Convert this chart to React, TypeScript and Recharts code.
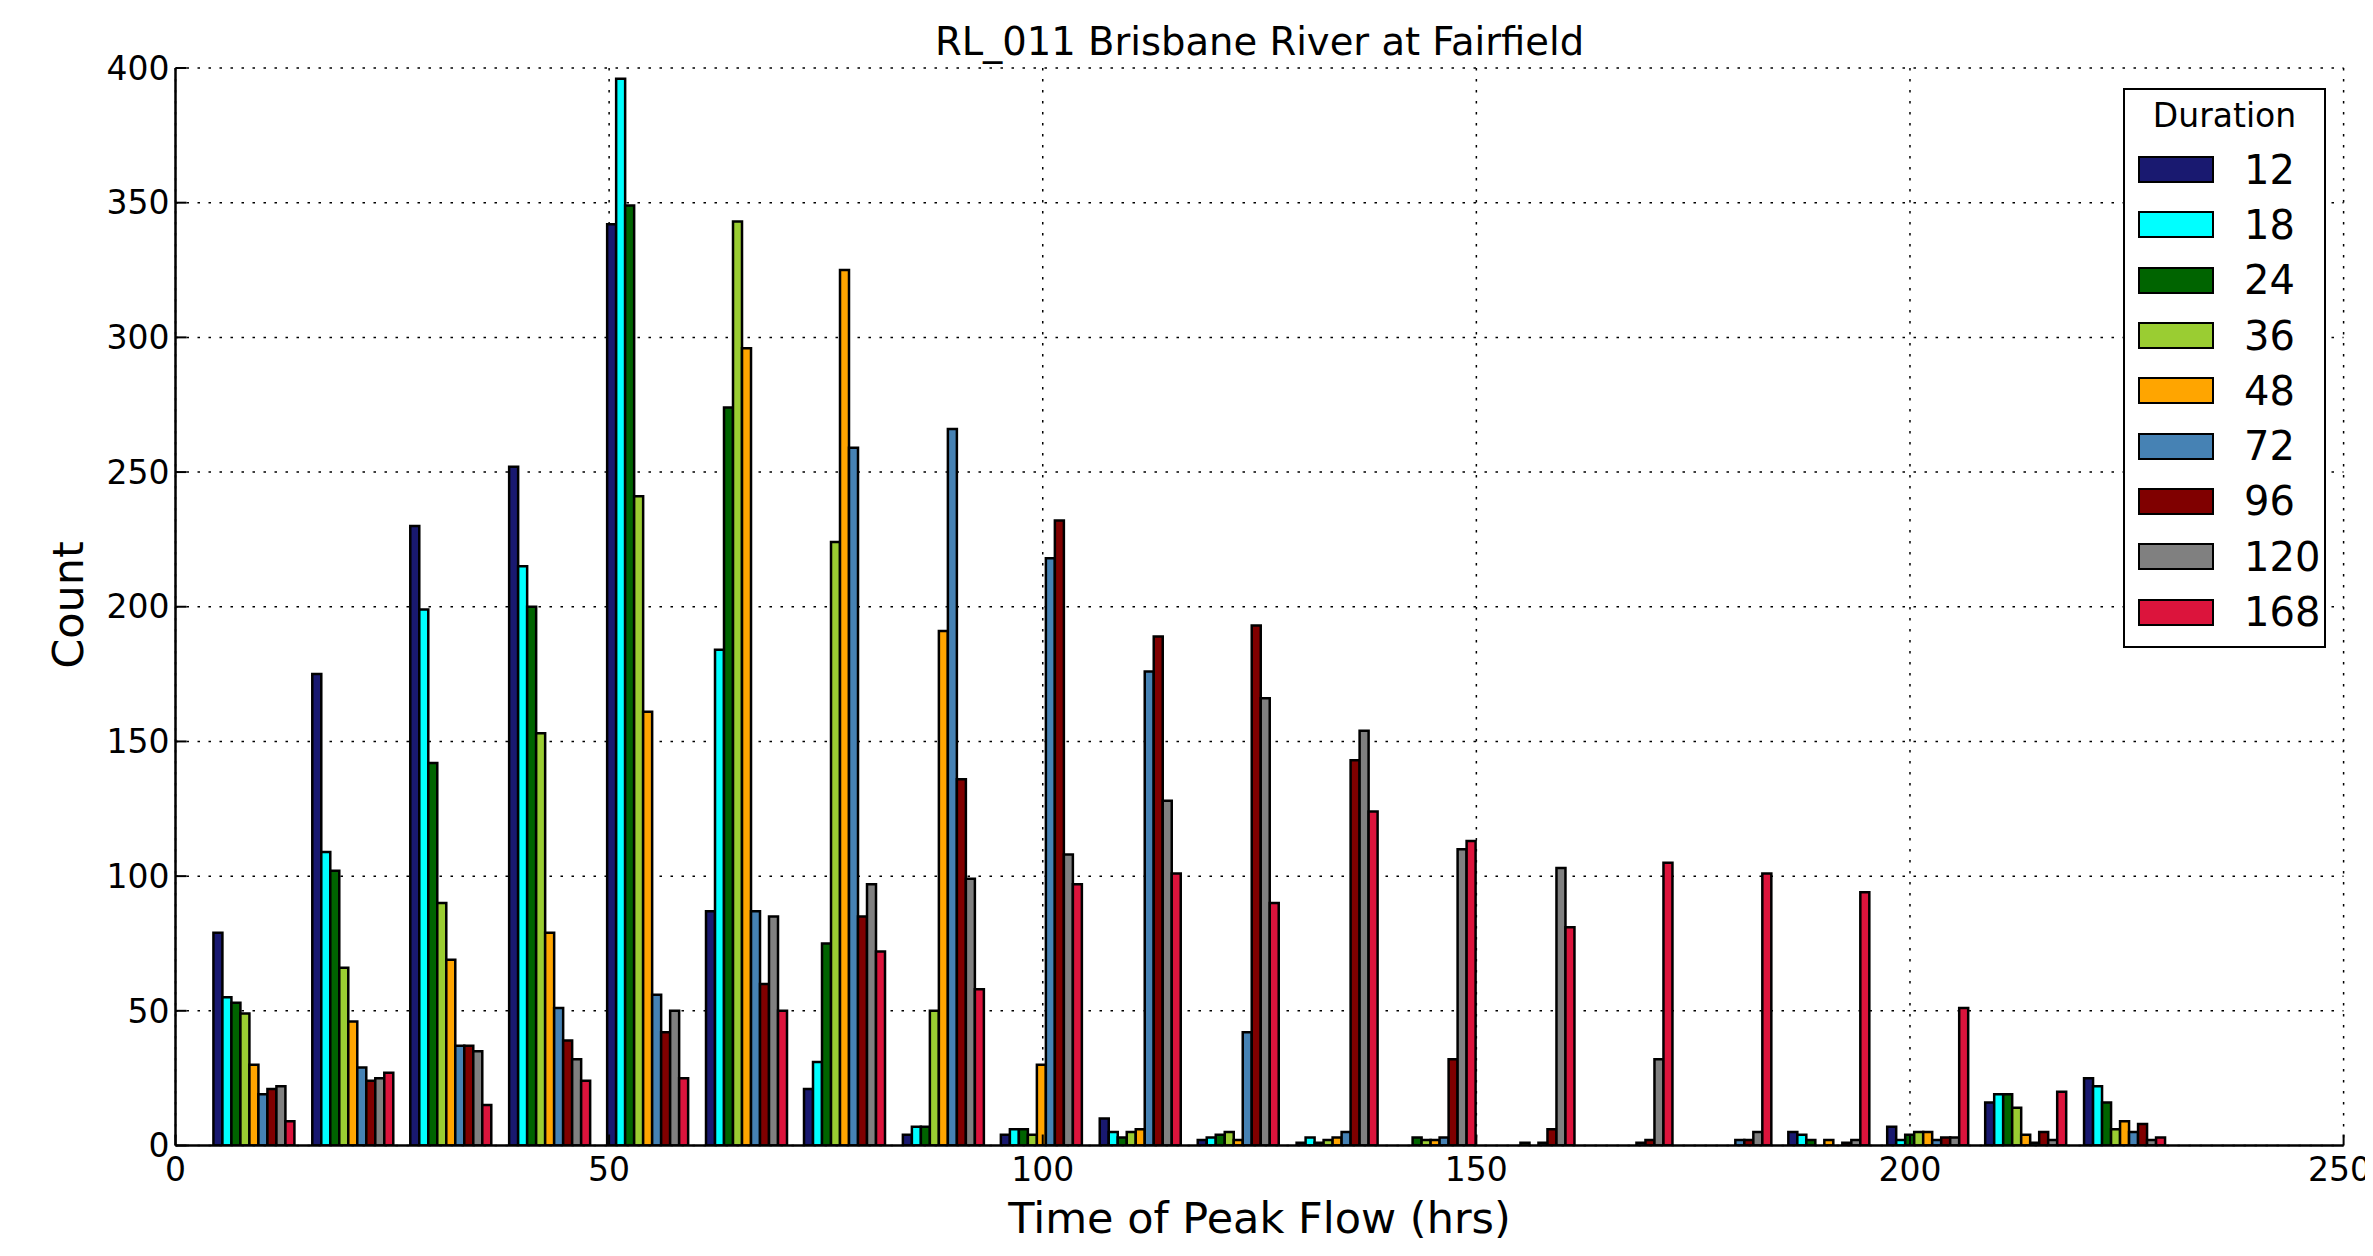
import { BarChart, Bar, XAxis, YAxis, CartesianGrid, Legend } from 'recharts';

// bin centres (hrs) of the peak-time histogram
const binCenters = [9.1, 20.5, 31.8, 43.2, 54.5, 65.9, 77.2, 88.6, 99.9, 111.3, 122.6, 134.0, 145.3, 156.7, 168.0, 179.4, 190.7, 202.1, 213.4, 224.8];

const durations = ['12', '18', '24', '36', '48', '72', '96', '120', '168'];
const colors = ['#191970', '#00FFFF', '#006400', '#9ACD32', '#FFA500', '#4682B4', '#800000', '#808080', '#DC143C'];

const d12 = [79, 175, 230, 252, 342, 87, 21, 4, 4, 10, 2, 1, 0, 0, 0, 0, 5, 7, 16, 25];
const d18 = [55, 109, 199, 215, 396, 184, 31, 7, 6, 5, 3, 3, 0, 0, 0, 0, 4, 2, 19, 22];
const d24 = [53, 102, 142, 200, 349, 274, 75, 7, 6, 3, 4, 1, 3, 0, 0, 0, 2, 4, 19, 16];
const d36 = [49, 66, 90, 153, 241, 343, 224, 50, 4, 5, 5, 2, 2, 1, 0, 0, 0, 5, 14, 6];
const d48 = [30, 46, 69, 79, 161, 296, 325, 191, 30, 6, 2, 3, 2, 0, 0, 0, 2, 5, 4, 9];
const d72 = [19, 29, 37, 51, 56, 87, 259, 266, 218, 176, 42, 5, 3, 1, 1, 2, 0, 2, 1, 5];
const d96 = [21, 24, 37, 39, 42, 60, 85, 136, 232, 189, 193, 143, 32, 6, 2, 2, 1, 3, 5, 8];
const d120 = [22, 25, 35, 32, 50, 85, 97, 99, 108, 128, 166, 154, 110, 103, 32, 5, 2, 3, 2, 2];
const d168 = [9, 27, 15, 24, 25, 50, 72, 58, 97, 101, 90, 124, 113, 81, 105, 101, 94, 51, 20, 3];

const xTicks = [0, 50, 100, 150, 200, 250];
const yTicks = [0, 50, 100, 150, 200, 250, 300, 350, 400];

const seriesValues = [d12, d18, d24, d36, d48, d72, d96, d120, d168];

const rows = binCenters.map((t, i) => {
  const row: Record<string, number> = { t };
  durations.forEach((d, k) => {
    row['d' + d] = seriesValues[k][i];
  });
  return row;
});

const W = 2365;
const H = 1240;
const FONT = '"DejaVu Sans", sans-serif';

// bottom tick label; the last one is nudged so it stays inside the page
function XTick(props: any) {
  const { x, y, payload } = props;
  const shift = payload.value === 250 ? -4 : 0;
  return (
    <text x={x + shift} y={y} dy="0.71em" textAnchor="middle" fill="#000" fontSize={33} fontFamily={FONT}>
      {payload.value}
    </text>
  );
}

function DurationLegend() {
  return (
    <div
      style={{
        width: 203,
        height: 560,
        boxSizing: 'border-box',
        border: '2px solid #000',
        background: '#fff',
        fontFamily: FONT,
        color: '#000',
      }}
    >
      <div style={{ height: 52, lineHeight: '52px', fontSize: 33, textAlign: 'center' }}>Duration</div>
      {durations.map((d, i) => (
        <div key={d} style={{ height: 55.3, display: 'flex', alignItems: 'center' }}>
          <div
            style={{
              marginLeft: 13,
              width: 76,
              height: 27,
              boxSizing: 'border-box',
              border: '2px solid #000',
              background: colors[i],
            }}
          />
          <span style={{ marginLeft: 30, fontSize: 40 }}>{d}</span>
        </div>
      ))}
    </div>
  );
}

export default function App() {
  const axisLine = { stroke: '#000', strokeWidth: 2.5 };
  const tickLine = { stroke: '#000', strokeWidth: 2 };
  return (
    <div style={{ position: 'relative', width: W, height: H, fontFamily: FONT }}>
      <BarChart
        width={W}
        height={H}
        data={rows}
        margin={{ top: 60, right: 29.4, bottom: 42.5, left: 20 }}
        barCategoryGap={8}
        barGap={0}
      >
        <XAxis
          dataKey="t"
          type="number"
          domain={[0, 250]}
          ticks={xTicks}
          allowDataOverflow
          interval={0}
          height={60}
          tickSize={-11}
          tickMargin={23.5}
          axisLine={axisLine}
          tickLine={tickLine}
          tick={<XTick />}
        />
        <XAxis
          xAxisId="top"
          orientation="top"
          type="number"
          domain={[0, 250]}
          ticks={xTicks}
          allowDataOverflow
          height={0}
          tickSize={-11}
          axisLine={axisLine}
          tickLine={tickLine}
          tick={false}
        />
        <YAxis
          type="number"
          domain={[0, 400]}
          ticks={yTicks}
          allowDataOverflow
          interval={0}
          width={147.5}
          tickSize={-11}
          tickMargin={17}
          axisLine={axisLine}
          tickLine={tickLine}
          tick={{ fill: '#000', fontSize: 33, fontFamily: FONT }}
        />
        <YAxis
          yAxisId="right"
          orientation="right"
          type="number"
          domain={[0, 400]}
          ticks={yTicks}
          allowDataOverflow
          width={0}
          tickSize={-11}
          axisLine={axisLine}
          tickLine={tickLine}
          tick={false}
        />
        {durations.map((d, i) => (
          <Bar
            key={d}
            dataKey={'d' + d}
            name={d}
            fill={colors[i]}
            stroke="#000"
            strokeWidth={2.5}
            isAnimationActive={false}
          />
        ))}
        <CartesianGrid stroke="#000" strokeWidth={1.5} strokeDasharray="2.5 8.5" />
        <Legend
          layout="vertical"
          align="center"
          verticalAlign="middle"
          wrapperStyle={{ left: 2115, top: 80, width: 203, height: 560 }}
          content={() => <DurationLegend />}
        />
      </BarChart>

      <div
        style={{
          position: 'absolute',
          left: 651.5,
          width: 1200,
          top: 15,
          lineHeight: '38px',
          fontSize: 38.5,
          textAlign: 'center',
        }}
      >
        RL_011 Brisbane River at Fairfield
      </div>
      <div
        style={{
          position: 'absolute',
          left: 651.5,
          width: 1200,
          top: 1189,
          lineHeight: '43px',
          fontSize: 43,
          textAlign: 'center',
        }}
      >
        Time of Peak Flow (hrs)
      </div>
      <div
        style={{
          position: 'absolute',
          left: 60 - 150,
          top: 597 - 22,
          width: 300,
          lineHeight: '44px',
          fontSize: 43,
          textAlign: 'center',
          transform: 'rotate(-90deg)',
        }}
      >
        Count
      </div>
    </div>
  );
}
